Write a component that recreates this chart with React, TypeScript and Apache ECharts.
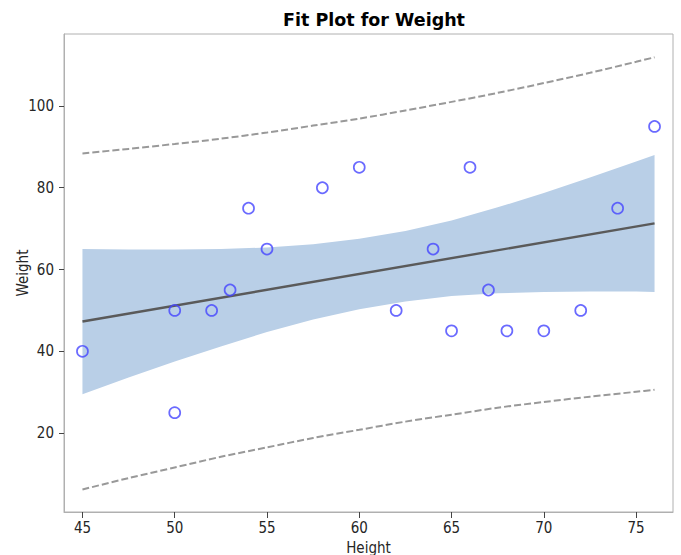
import React, { useEffect, useRef } from "react";
import * as echarts from "echarts";

// Observed points
const heights = [45, 50, 50, 52, 53, 54, 55, 58, 60, 62, 64, 65, 66, 67, 68, 70, 72, 74, 76];
const weights = [40, 25, 50, 50, 55, 75, 65, 80, 85, 50, 65, 45, 85, 55, 45, 45, 50, 75, 95];

// Fitted regression line (endpoints)
const fitHeights = [45, 76];
const fitWeights = [47.3, 71.3];

// Band curves read at these heights
const bandHeights = [45, 47.5, 50, 52.5, 55, 57.5, 60, 62.5, 65, 67.5, 70, 72.5, 75, 76];
const confLower = [29.5, 33.6, 37.5, 41.2, 44.7, 47.8, 50.3, 52.2, 53.5, 54.2, 54.5, 54.6, 54.6, 54.5];
const confUpper = [65.0, 64.9, 64.9, 65.0, 65.4, 66.2, 67.5, 69.4, 72.0, 75.2, 78.7, 82.5, 86.4, 88.0];
const predLower = [6.2, 9.0, 11.6, 14.2, 16.5, 18.8, 20.8, 22.8, 24.5, 26.2, 27.6, 28.9, 30.1, 30.6];
const predUpper = [88.4, 89.5, 90.7, 92.0, 93.5, 95.2, 96.9, 98.9, 101.0, 103.2, 105.6, 108.1, 110.8, 111.9];

// Tick labels
const xTicks = [45, 50, 55, 60, 65, 70, 75];
const yTicks = [20, 40, 60, 80, 100];

const FONT = "'Liberation Sans Narrow', 'DejaVu Sans Condensed', 'DejaVu Sans', sans-serif";
const TITLE_FONT = "'DejaVu Sans', sans-serif";

export default function App() {
  const ref = useRef<HTMLDivElement>(null);
  useEffect(() => {
    document.body.style.margin = "0";
    const chart = echarts.init(ref.current!, null, { renderer: "svg" });
    const zip = (xs: number[], ys: number[]) => xs.map((x, i) => [x, ys[i]]);
    chart.setOption({
      animation: false,
      backgroundColor: "#ffffff",
      title: {
        text: "Fit Plot for Weight",
        left: 369,
        textAlign: "center",
        top: 6,
        textStyle: { fontFamily: TITLE_FONT, fontSize: 17.5, fontWeight: "bold", color: "#000" },
      },
      grid: {
        left: 64,
        top: 34,
        width: 609,
        height: 478,
        containLabel: false,
        outerBoundsMode: "none",
        show: true,
        borderColor: "#b0b0b0",
        borderWidth: 1,
        backgroundColor: "transparent",
      },
      xAxis: {
        type: "value",
        min: 44,
        max: 77,
        name: "Height",
        nameLocation: "middle",
        nameGap: 28,
        nameMoveOverlap: false,
        nameTextStyle: { fontFamily: FONT, fontSize: 15, color: "#262626" },
        axisLine: { show: true, lineStyle: { color: "#b0b0b0" } },
        splitLine: { show: false },
        axisTick: { show: true, customValues: xTicks, length: 6, lineStyle: { color: "#444" } },
        axisLabel: {
          customValues: xTicks,
          fontFamily: FONT,
          fontSize: 15,
          color: "#262626",
          margin: 8,
        },
      },
      yAxis: {
        type: "value",
        min: 0.7,
        max: 117.6,
        name: "Weight",
        nameLocation: "middle",
        nameGap: 34,
        nameMoveOverlap: false,
        nameRotate: 90,
        nameTextStyle: { fontFamily: FONT, fontSize: 15, color: "#262626" },
        axisLine: { show: true, lineStyle: { color: "#b0b0b0" } },
        splitLine: { show: false },
        axisTick: { show: true, customValues: yTicks, length: 5, lineStyle: { color: "#444" } },
        axisLabel: {
          customValues: yTicks,
          fontFamily: FONT,
          fontSize: 15,
          color: "#262626",
          margin: 10,
        },
      },
      series: [
        {
          type: "custom",
          name: "confidence",
          data: bandHeights.map((x, i) => [x, confLower[i], confUpper[i]]),
          encode: { x: 0, y: [1, 2] },
          silent: true,
          clip: true,
          z: 1,
          renderItem: (params: any, api: any) => {
            if (params.dataIndex !== 0) return null;
            const top = bandHeights.map((x, i) => api.coord([x, confUpper[i]]));
            const bottom = bandHeights
              .map((x, i) => api.coord([x, confLower[i]]))
              .reverse();
            return {
              type: "polygon",
              shape: { points: top.concat(bottom) },
              style: { fill: "#b9cfe7", stroke: "none" },
            };
          },
        },
        {
          type: "line",
          name: "fit",
          data: zip(fitHeights, fitWeights),
          symbol: "none",
          lineStyle: { color: "#5a5a5a", width: 2.4 },
          z: 2,
        },
        {
          type: "line",
          name: "predUpper",
          data: zip(bandHeights, predUpper),
          smooth: 0.3,
          symbol: "none",
          lineStyle: { color: "#999999", width: 2, type: [7, 3] },
          z: 3,
        },
        {
          type: "line",
          name: "predLower",
          data: zip(bandHeights, predLower),
          smooth: 0.3,
          symbol: "none",
          lineStyle: { color: "#999999", width: 2, type: [7, 3] },
          z: 3,
        },
        {
          type: "scatter",
          name: "Weight",
          data: zip(heights, weights),
          symbol: "circle",
          symbolSize: 11,
          itemStyle: { color: "rgba(0,0,0,0)", borderColor: "#4545ff", borderWidth: 1.7 },
          z: 4,
        },
      ],
    });
    return () => chart.dispose();
  }, []);
  return <div ref={ref} style={{ width: 681, height: 555 }} />;
}
